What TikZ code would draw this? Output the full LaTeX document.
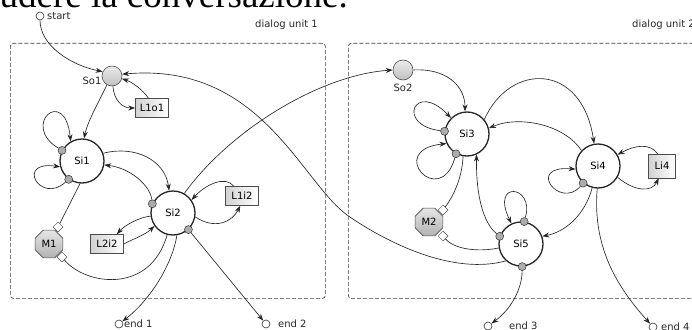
\documentclass[tikz,border=0pt]{standalone}
\usepackage{fontspec}
\newfontfamily\dvs{DejaVu Sans}
\newfontfamily\tms{Liberation Serif}
\usetikzlibrary{arrows.meta,shapes.geometric}
\begin{document}
\begin{tikzpicture}[x=1pt,y=-1pt,
  lbl/.style={font=\dvs\fontsize{10}{12}\selectfont,text=black!85,inner sep=1pt},
  state/.style={circle,draw=black!85,line width=1.3pt,minimum size=44pt,inner sep=0pt,fill=white,font=\dvs\fontsize{10}{12}\selectfont},
  sonode/.style={circle,draw=black!70,line width=0.6pt,minimum size=20pt,inner sep=0pt,top color=gray!15,bottom color=gray!50},
  lbox/.style={rectangle,draw=black!70,line width=0.6pt,minimum width=33pt,minimum height=19pt,inner sep=1pt,left color=gray!35,right color=white,font=\dvs\fontsize{10}{12}\selectfont},
  mnode/.style={regular polygon,regular polygon sides=8,draw=black!70,line width=0.6pt,minimum size=30pt,inner sep=0pt,top color=gray!20,bottom color=gray!60,font=\dvs\fontsize{10}{12}\selectfont},
  port/.style={circle,draw=black!80,fill=gray!65,minimum size=8pt,inner sep=0pt,line width=0.5pt},
  dport/.style={diamond,draw=black!70,fill=white,minimum size=10pt,inner sep=0pt,line width=0.5pt},
  term/.style={circle,draw=black!80,fill=white,minimum size=8pt,inner sep=0pt,line width=0.6pt},
  edge/.style={draw=black!85,line width=0.65pt,-{Stealth[length=7pt,width=5pt]}},
  ln/.style={draw=black!85,line width=0.65pt},
  dbox/.style={draw=black!75,dash pattern=on 4pt off 2pt,line width=0.7pt,rounded corners=3pt,inner sep=0pt}
]
\useasboundingbox (0,0) rectangle (692,329);
\clip (0,0) rectangle (692,329);
\node[anchor=base east,font=\tms\fontsize{37}{40}\selectfont,inner sep=0pt] (head) at (348,8) {concludere la conversazione.};
% dialog unit boxes
\node[dbox,minimum width=315pt,minimum height=255pt,anchor=north west] (du1) at (10,43) {};
\node[dbox,minimum width=372pt,minimum height=255pt,anchor=north west] (du2) at (348,43) {};
\node[lbl,anchor=east] (du1l) at (319,25) {dialog unit 1};
\node[lbl,anchor=west] (du2l) at (631,25) {dialog unit 2};
% nodes
\node[term] (start) at (40,16) {};
\node[lbl,anchor=west] (startl) at (46,16) {start};
\node[sonode] (So1) at (112,76) {};
\node[lbl] (So1l) at (92,81) {So1};
\node[lbox] (L1o1) at (152,108) {L1o1};
\node[state] (Si1) at (82,161) {Si1};
\node[state] (Si2) at (173,213) {Si2};
\node[lbox] (L1i2) at (242,196) {L1i2};
\node[lbox] (L2i2) at (107,244) {L2i2};
\node[mnode] (M1) at (49,244) {M1};
\node[term] (end1) at (119,324) {};
\node[lbl,anchor=west] (end1l) at (123,324) {end 1};
\node[term] (end2) at (266,324) {};
\node[lbl,anchor=west] (end2l) at (277,324) {end 2};
\node[sonode] (So2) at (403,70) {};
\node[lbl] (So2l) at (403,88) {So2};
\node[state] (Si3) at (467,134) {Si3};
\node[state] (Si4) at (598,166) {Si4};
\node[state] (Si5) at (521,244) {Si5};
\node[lbox,minimum width=27pt,minimum height=24pt] (Li4) at (662,166) {Li4};
\node[mnode] (M2) at (429,222) {M2};
\node[term] (end3) at (488,326) {};
\node[lbl,anchor=west] (end3l) at (508,326) {end 3};
\node[term] (end4) at (653,327) {};
\node[lbl,anchor=west] (end4l) at (660,327) {end 4};
% ports
\node[port] (p1a) at (Si1.152) {};
\node[port] (p1b) at (Si1.234) {};
\node[port] (p2a) at (Si2.156) {};
\node[port] (p2b) at (Si2.313) {};
\node[port] (p3a) at (Si3.173) {};
\node[port] (p3b) at (Si3.241) {};
\node[port] (p4a) at (Si4.229) {};
\node[port] (p5a) at (Si5.82) {};
\node[port] (p5b) at (Si5.160) {};
\node[port] (p5c) at (Si5.273) {};
\node[dport] (d1a) at (58,227) {};
\node[dport] (d1b) at (62,257) {};
\node[dport] (d2a) at (443,210) {};
\node[dport] (d2b) at (443,236) {};
% edges left unit
\draw[edge] (start.south) .. controls (40,45) and (70,65) .. (So1.155);
\draw[edge] (So1.240) .. controls (100,100) and (88,120) .. (Si1.85);
\draw[edge] (So1.275) .. controls (114,100) and (122,108) .. (L1o1.west);
\draw[edge] (L1o1.110) .. controls (143,90) and (132,82) .. (So1.-15);
\draw[edge] (p1a) .. controls (20,125) and (65,85) .. (Si1.120);
\draw[edge] (p1b) .. controls (40,205) and (15,160) .. (Si1.195);
\draw[edge] (Si1.20) .. controls (135,145) and (165,160) .. (Si2.100);
\draw[edge] (p2a) .. controls (150,185) and (130,168) .. (Si1.-10);
\draw[edge] (Si2.188) .. controls (140,217) and (125,225) .. (L2i2.45);
\draw[edge] (L2i2.east) .. controls (135,238) and (145,235) .. (Si2.215);
\draw[edge] (Si2.-10) .. controls (215,230) and (232,222) .. (L1i2.260);
\draw[edge] (L1i2.130) .. controls (225,175) and (205,185) .. (Si2.35);
\draw[ln] (Si1.265) -- (d1a);
\draw[ln] (d1b) .. controls (85,285) and (150,295) .. (Si2.255);
\draw[edge] (Si2.280) .. controls (172,265) and (150,300) .. (end1);
\draw[edge] (p2b) -- (end2);
\draw[edge] (Si2.60) .. controls (230,130) and (320,75) .. (So2.180);
\draw[edge] (Si5.228) .. controls (455,275) and (390,245) .. (347,215) .. controls (300,180) and (260,62) .. (So1.10);
% edges right unit
\draw[edge] (So2.east) .. controls (445,68) and (465,85) .. (Si3.95);
\draw[edge] (p3a) .. controls (395,125) and (415,80) .. (Si3.135);
\draw[edge] (p3b) .. controls (440,210) and (385,150) .. (Si3.205);
\draw[edge] (Si3.40) .. controls (510,62) and (582,62) .. (Si4.100);
\draw[edge] (Si4.137) .. controls (565,125) and (520,115) .. (Si3.15);
\draw[edge] (Li4.110) .. controls (650,143) and (635,145) .. (Si4.30);
\draw[edge] (Si4.-30) .. controls (635,192) and (652,192) .. (Li4.255);
\draw[edge] (p4a) .. controls (560,210) and (525,165) .. (Si4.188);
\draw[edge] (Si4.255) .. controls (585,215) and (565,232) .. (Si5.20);
\draw[edge] (Si4.268) .. controls (592,250) and (620,290) .. (end4);
\draw[edge] (p5a) .. controls (535,185) and (490,180) .. (Si5.115);
\draw[edge] (p5b) .. controls (480,220) and (476,185) .. (Si3.295);
\draw[ln] (Si3.260) .. controls (462,180) and (452,198) .. (d2a);
\draw[ln] (d2b) .. controls (455,250) and (480,252) .. (Si5.190);
\draw[edge] (p5c) .. controls (522,290) and (510,310) .. (end3);
\end{tikzpicture}
\end{document}
